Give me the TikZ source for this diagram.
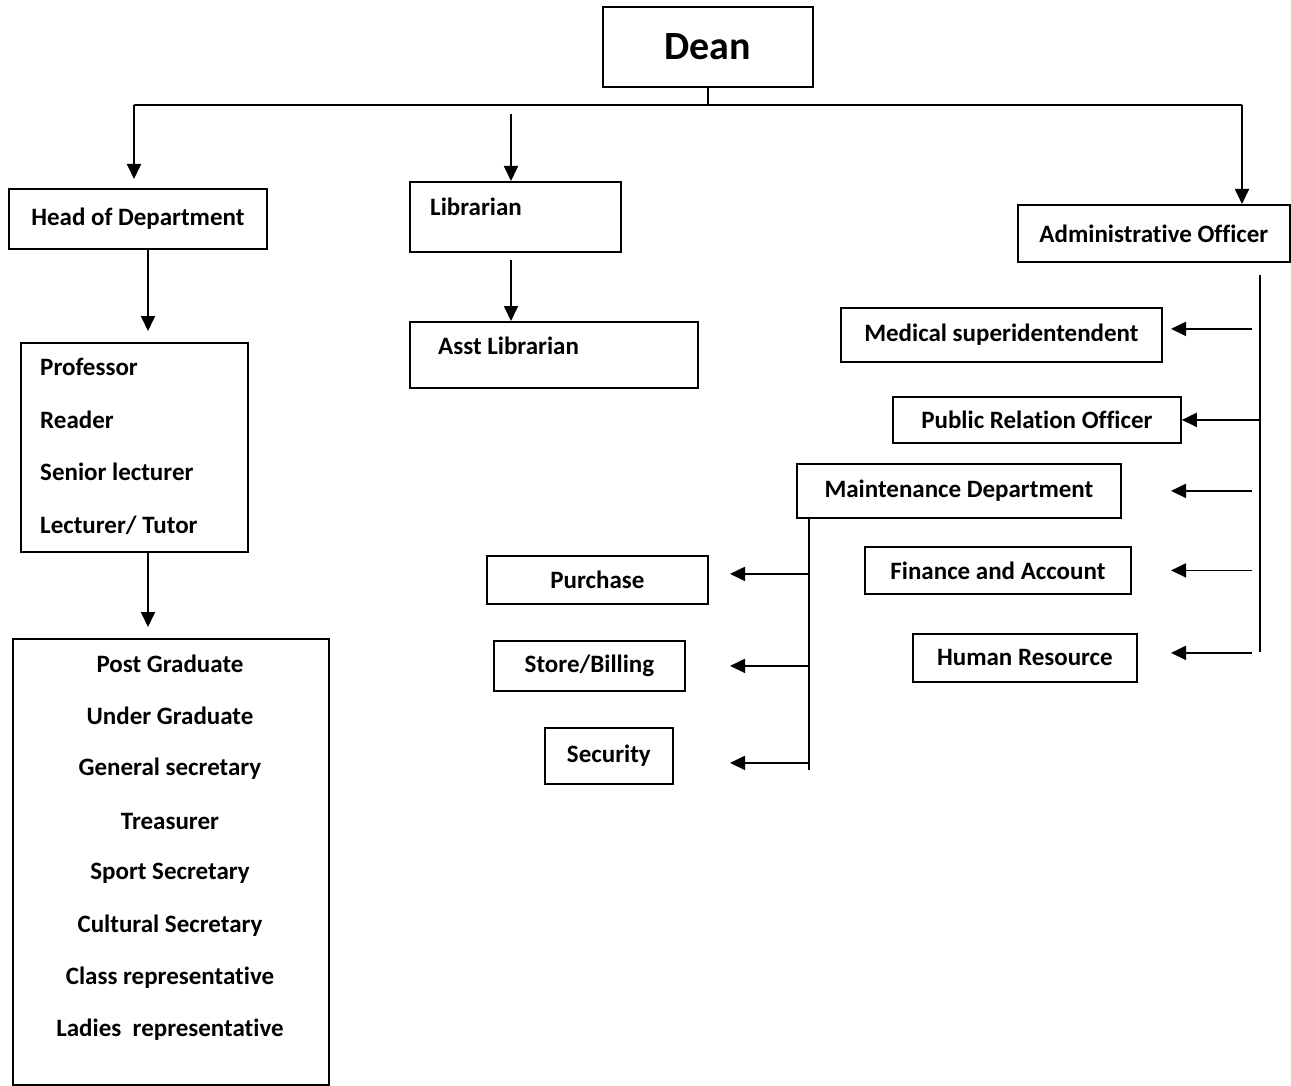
\documentclass[tikz,border=0pt]{standalone}
\usepackage{fontspec}
\setmainfont{Carlito}[Ligatures=NoCommon]
\usetikzlibrary{arrows.meta}
\begin{document}
\begin{tikzpicture}[x=1pt,y=-1pt,
  box/.style={draw, line width=1.8pt, inner sep=0pt, anchor=north west, font=\bfseries\fontsize{25}{30}\selectfont},
  txt/.style={inner sep=0pt, font=\bfseries\fontsize{25}{30}\selectfont},
  ln/.style={line width=1.8pt},
  arr/.style={line width=1.8pt, -{Triangle[length=15pt,width=14pt]}}]
\useasboundingbox (0,0) rectangle (1291,1086);
% boxes
\node[box, minimum width=210pt, minimum height=80pt, font=\bfseries\fontsize{40}{46}\selectfont] (dean) at (602,6) {Dean};
\node[box, minimum width=258pt, minimum height=60pt] (hod) at (8,188) {Head of Department};
\node[box, minimum width=211pt, minimum height=70pt] (lib) at (409,181) {};
\node[txt, anchor=west] (libt) at (430,207) {Librarian};
\node[box, minimum width=272pt, minimum height=57pt] (adm) at (1017,204) {Administrative Officer};
\node[box, minimum width=227pt, minimum height=209pt] (staff) at (20,342) {};
\node[box, minimum width=316pt, minimum height=446pt] (stud) at (12,638) {};
\node[box, minimum width=288pt, minimum height=66pt] (asst) at (409,321) {};
\node[txt, anchor=west] (asstt) at (438,346) {Asst Librarian};
\node[box, minimum width=321pt, minimum height=54pt] (med) at (840,307) {Medical superidentendent};
\node[box, minimum width=288pt, minimum height=46pt] (pro) at (892,396) {Public Relation Officer};
\node[box, minimum width=324pt, minimum height=54pt] (maint) at (796,463) {Maintenance Department};
\node[box, minimum width=266pt, minimum height=47pt] (fin) at (864,546) {Finance and Account};
\node[box, minimum width=224pt, minimum height=48pt] (hres) at (912,633) {Human Resource};
\node[box, minimum width=221pt, minimum height=48pt] (pur) at (486,555) {Purchase};
\node[box, minimum width=191pt, minimum height=50pt] (store) at (493,640) {Store/Billing};
\node[box, minimum width=128pt, minimum height=56pt] (sec) at (544,727) {Security};
% staff list
\node[txt, anchor=west] (s1) at (40,367) {Professor};
\node[txt, anchor=west] (s2) at (40,420) {Reader};
\node[txt, anchor=west] (s3) at (40,472) {Senior lecturer};
\node[txt, anchor=west] (s4) at (40,525) {Lecturer/ Tutor};
% student list
\node[txt] (t1) at (170,664) {Post Graduate};
\node[txt] (t2) at (170,716) {Under Graduate};
\node[txt] (t3) at (170,769) {General secretary};
\node[txt] (t4) at (170,821) {Treasurer};
\node[txt] (t5) at (170,873) {Sport Secretary};
\node[txt] (t6) at (170,926) {Cultural Secretary};
\node[txt] (t7) at (170,978) {Class representative};
\node[txt] (t8) at (170,1030) {Ladies\ \ representative};
% top connectors
\coordinate (hl) at (134,105);
\coordinate (hrt) at (1242,105);
\draw[ln] (dean.south) -- (dean.south |- hl);
\draw[ln] (hl) -- (hrt);
\draw[arr, shorten >=9pt] (hl) -- (hl |- hod.north);
\coordinate (lt) at (511,114);
\draw[arr] (lt) -- (lt |- lib.north);
\draw[arr] (hrt) -- (hrt |- adm.north);
\coordinate (x148) at (148,0);
\draw[arr, shorten >=11pt] (hod.south -| x148) -- (staff.north -| x148);
\draw[arr, shorten >=11pt] (staff.south -| x148) -- (stud.north -| x148);
\draw[arr, shorten <=7pt] (lib.south -| lt) -- (asst.north -| lt);
% administrative branch
\coordinate (at) at (1260,275);
\coordinate (ab) at (1260,652);
\draw[ln] (at) -- (ab);
\coordinate (xa) at (1252,0);
\coordinate (xb) at (1171,0);
\draw[arr] ([yshift=6pt]med.east -| xa) -- ([yshift=6pt]med.east -| xb);
\draw[arr] (pro.east -| at) -- (pro.east);
\draw[arr] (maint.east -| xa) -- (maint.east -| xb);
\draw[arr] (fin.east -| xa) -- (fin.east -| xb);
\draw[arr] ([yshift=5pt]hres.east -| xa) -- ([yshift=5pt]hres.east -| xb);
% maintenance branch
\coordinate (mb) at (809,770);
\coordinate (xm) at (730,0);
\draw[ln] (maint.south -| mb) -- (mb);
\draw[arr] ([yshift=6pt]pur.east -| mb) -- ([yshift=6pt]pur.east -| xm);
\draw[arr] (store.east -| mb) -- (store.east -| xm);
\draw[arr] ([yshift=-7pt]sec.east -| mb) -- ([yshift=-7pt]sec.east -| xm);
\end{tikzpicture}
\end{document}
